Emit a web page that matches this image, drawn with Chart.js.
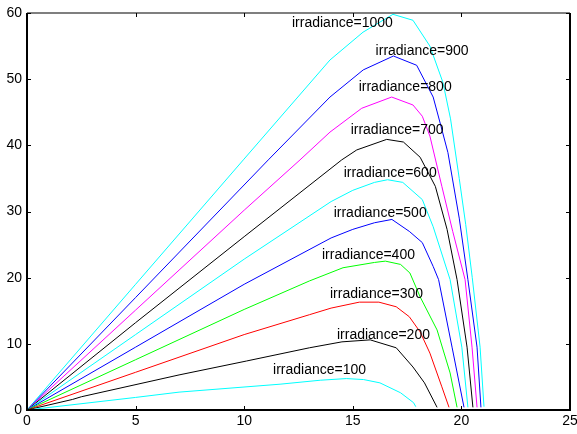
<!DOCTYPE html>
<html>
<head>
<meta charset="utf-8">
<title>PV curves</title>
<script src="https://cdn.jsdelivr.net/npm/chart.js@4/dist/chart.umd.min.js"></script>
<style>
  html, body { margin: 0; padding: 0; background: #fff; }
  canvas { display: block; }
</style>
</head>
<body>
<canvas id="pvChart" width="577" height="434"></canvas>
<script>
// ── Data (voltage V, power W) ────────────────────────────────────────────

const irradiance = [100, 200, 300, 400, 500, 600, 700, 800, 900, 1000];
const lineColors = ['#00ffff', '#000000', '#ff0000', '#00ff00', '#0000ff',
                    '#00ffff', '#000000', '#ff00ff', '#0000ff', '#00ffff'];

const volt100  = [0, 5, 7, 11.65, 13.5, 14.7, 15.5, 16.25, 17.2, 17.8, 17.9];
const power100 = [0, 1.9, 2.7, 3.9, 4.5, 4.75, 4.6, 4.1, 2.6, 1.1, 0.5];

const volt200  = [0, 2.1, 2.5, 7, 10.1, 13, 14.5, 15.8, 17, 17.77, 18.3, 18.88];
const power200 = [0, 1.6, 2.0, 5.3, 7.4, 9.4, 10.3, 10.6, 9.4, 6.5, 4.1, 0.4];

const volt300  = [0, 5, 10, 13, 14, 15.3, 16.2, 17, 17.6, 18.1, 18.55, 19.1, 19.43];
const power300 = [0, 5.7, 11.4, 14.4, 15.4, 16.3, 16.3, 15.6, 14.1, 11.8, 8.6, 3.5, 0.4];

const volt400  = [0, 5, 10, 13, 14.55, 16, 16.5, 17.2, 17.63, 18.1, 18.88, 19.48, 19.8];
const power400 = [0, 7.6, 15.2, 19.5, 21.5, 22.3, 22.5, 22, 20.7, 17.1, 12.1, 5.6, 0.4];

const volt500  = [0, 5, 10, 14, 15, 16, 16.8, 17.6, 18.2, 18.7, 18.95, 19.57, 20.12];
const power500 = [0, 9.5, 19, 26, 27.3, 28.3, 28.8, 27, 25.3, 21.7, 19.7, 9.5, 0.4];

const volt600  = [0, 5, 10, 14, 15, 16, 16.6, 17.3, 18.2, 18.7, 19.48, 20.02, 20.3];
const power600 = [0, 11.4, 22.8, 31.5, 33.2, 34.4, 34.8, 34.4, 31.8, 27.7, 19.7, 9.5, 0.4];

const volt700  = [0, 5, 10, 14.49, 15.18, 16.56, 17.33, 18.1, 18.8, 19.34, 19.8, 20.26, 20.53];
const power700 = [0, 13.2, 26.2, 37.8, 39.3, 40.9, 40.5, 38.2, 33.8, 27.3, 19.7, 9.5, 0.4];

const volt800  = [0, 5, 10, 12.57, 13.95, 15.41, 16.79, 17.77, 18.2, 18.55, 19.1, 19.6, 20.17, 20.49, 20.72];
const power800 = [0, 15.1, 30.2, 37.8, 42.0, 45.6, 47.3, 46.1, 44.4, 41.4, 33.8, 27, 19.7, 9.5, 0.4];

const volt900  = [0, 5, 11.11, 13.95, 15.48, 16.87, 17.94, 18.7, 19.06, 19.38, 19.9, 20.3, 20.72, 20.9];
const power900 = [0, 17, 37.8, 47.3, 51.4, 53.5, 52.1, 47.3, 42.9, 38.9, 29, 19.7, 9.5, 0.4];

const volt1000  = [0, 5, 9.96, 13.95, 15.47, 16.85, 17.77, 18.55, 19.15, 19.5, 19.9, 20.2, 20.5, 20.86, 21.04];
const power1000 = [0, 19, 37.8, 52.9, 57.1, 59.8, 58.9, 55, 49.5, 44, 35, 28, 20, 9.5, 0.5];

const voltSets  = [volt100, volt200, volt300, volt400, volt500, volt600, volt700, volt800, volt900, volt1000];
const powerSets = [power100, power200, power300, power400, power500, power600, power700, power800, power900, power1000];

// text annotation anchors (left edge, vertical middle) in data units
const labelVolt  = [11.33, 14.27, 13.95, 13.58, 14.12, 14.58, 14.9, 15.27, 16.05, 12.2];
const labelPower = [6.0, 11.3, 17.5, 23.4, 29.8, 35.8, 42.3, 48.8, 54.2, 58.5];

const xTicks = [0, 5, 10, 15, 20, 25];
const yTicks = [0, 10, 20, 30, 40, 50, 60];

const FONT = "'Liberation Sans', Arial, sans-serif";

// ── Plugins ──────────────────────────────────────────────────────────────

// MATLAB-style box with inward ticks on all four sides
const framePlugin = {
  id: 'frame',
  afterDatasetsDraw(chart) {
    const { ctx, chartArea: a, scales: { x, y } } = chart;
    const L = 4;
    ctx.save();
    ctx.strokeStyle = '#000';
    ctx.lineWidth = 1;
    ctx.beginPath();
    xTicks.forEach(v => {
      const px = Math.round(x.getPixelForValue(v)) + 0.5;
      ctx.moveTo(px, a.bottom); ctx.lineTo(px, a.bottom - L);
      ctx.moveTo(px, a.top);    ctx.lineTo(px, a.top + L);
    });
    yTicks.forEach(v => {
      const py = Math.round(y.getPixelForValue(v)) + 0.5;
      ctx.moveTo(a.left, py);  ctx.lineTo(a.left + L, py);
      ctx.moveTo(a.right, py); ctx.lineTo(a.right - L, py);
    });
    ctx.stroke();

    ctx.lineWidth = 2;
    ctx.beginPath();
    ctx.moveTo(a.left, a.top); ctx.lineTo(a.left, a.bottom);
    ctx.lineTo(a.right, a.bottom); ctx.lineTo(a.right, a.top);
    ctx.stroke();
    ctx.lineWidth = 1.2;
    ctx.beginPath();
    ctx.moveTo(a.left, a.top); ctx.lineTo(a.right, a.top);
    ctx.stroke();
    ctx.restore();
  },
};

// "irradiance=..." text labels
const labelPlugin = {
  id: 'irrLabels',
  afterDatasetsDraw(chart) {
    const { ctx, scales: { x, y } } = chart;
    ctx.save();
    ctx.font = `14px ${FONT}`;
    ctx.fillStyle = '#000';
    ctx.textAlign = 'left';
    ctx.textBaseline = 'middle';
    irradiance.forEach((g, i) => {
      ctx.fillText(`irradiance=${g}`, x.getPixelForValue(labelVolt[i]), y.getPixelForValue(labelPower[i]));
    });
    ctx.restore();
  },
};

// ── Chart ────────────────────────────────────────────────────────────────

const datasets = irradiance.map((g, i) => ({
  label: `irradiance=${g}`,
  data: voltSets[i].map((v, k) => ({ x: v, y: powerSets[i][k] })),
  borderColor: lineColors[i],
  backgroundColor: lineColors[i],
  borderWidth: 1,
  pointRadius: 0,
  showLine: true,
  tension: 0,
}));

new Chart(document.getElementById('pvChart'), {
  type: 'scatter',
  data: { datasets },
  options: {
    responsive: false,
    animation: false,
    layout: { padding: { top: 13, right: 7, left: 0, bottom: 0 } },
    plugins: { legend: { display: false }, tooltip: { enabled: false } },
    scales: {
      x: {
        type: 'linear',
        min: 0, max: 25,
        afterBuildTicks: s => { s.ticks = xTicks.map(v => ({ value: v })); },
        afterFit: s => { s.height = 24; s.paddingLeft = 0; s.paddingRight = 0; },
        ticks: { color: '#000', font: { family: FONT, size: 14 }, padding: 3, maxRotation: 0 },
        grid: { display: false, drawTicks: false },
        border: { display: false },
      },
      y: {
        type: 'linear',
        min: 0, max: 60,
        afterBuildTicks: s => { s.ticks = yTicks.map(v => ({ value: v })); },
        afterFit: s => { s.width = 27; s.paddingTop = 0; s.paddingBottom = 0; },
        ticks: { color: '#000', font: { family: FONT, size: 14 }, padding: 5 },
        grid: { display: false, drawTicks: false },
        border: { display: false },
      },
    },
  },
  plugins: [framePlugin, labelPlugin],
});
</script>
</body>
</html>
